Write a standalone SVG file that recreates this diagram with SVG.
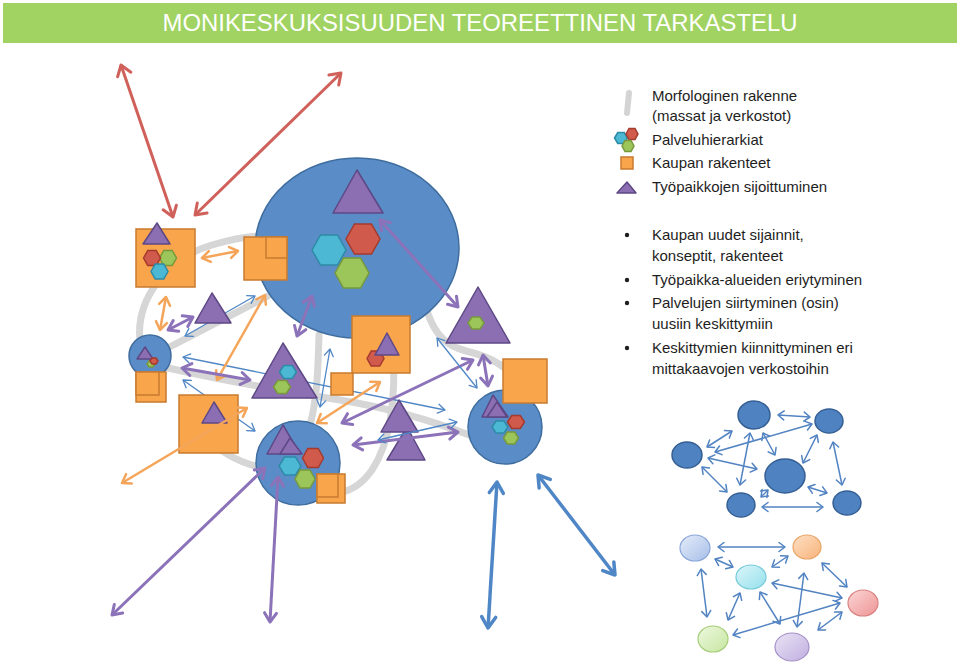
<svg xmlns="http://www.w3.org/2000/svg" width="960" height="667" viewBox="0 0 960 667">
<defs>
<style>
.band{fill:none;stroke:#d6d6d6;stroke-width:7;stroke-linecap:round}
.blue{fill:#5a8dc8;stroke:#3f6d9f;stroke-width:1.5}
.org{fill:#f8a54c;stroke:#c77b2f;stroke-width:1.5}
.tri{fill:#8c6fb3;stroke:#5d4885;stroke-width:1.5;stroke-linejoin:round}
.hr{fill:#d05a4b;stroke:#a53a2e;stroke-width:1.5}
.hc{fill:#4cb8d4;stroke:#2e8aa6;stroke-width:1.5}
.hg{fill:#9cc65a;stroke:#77993c;stroke-width:1.5}
.ar{fill:none;stroke:#d0605a;stroke-width:3;marker-start:url(#mR);marker-end:url(#mR)}
.ao{fill:none;stroke:#f5a55a;stroke-width:2.5;marker-start:url(#mO);marker-end:url(#mO)}
.ap{fill:none;stroke:#8c72b8;stroke-width:3;marker-start:url(#mP);marker-end:url(#mP)}
.ab{fill:none;stroke:#4f86c6;stroke-width:1.3;marker-start:url(#mB);marker-end:url(#mB)}
.abb{fill:none;stroke:#4f86c6;stroke-width:3.5;marker-start:url(#mBB);marker-end:url(#mBB)}
.an{fill:none;stroke:#5283c2;stroke-width:1.5;marker-start:url(#mN);marker-end:url(#mN)}
.nb{fill:#4f82c0;stroke:#355f94;stroke-width:1.5}
.lt{font-family:"Liberation Sans",Arial,sans-serif;font-size:15px;fill:#1e1e1e}
.title{font-family:"Liberation Sans",Arial,sans-serif;font-size:23px;fill:#ffffff}
</style>
<marker id="mR" markerUnits="userSpaceOnUse" orient="auto-start-reverse" overflow="visible"><path d="M-10,-7 L0,0 L-10,7" fill="none" stroke="#d0605a" stroke-width="3" stroke-linecap="round" stroke-linejoin="round"/></marker>
<marker id="mO" markerUnits="userSpaceOnUse" orient="auto-start-reverse" overflow="visible"><path d="M-8,-5.5 L0,0 L-8,5.5" fill="none" stroke="#f5a55a" stroke-width="2.5" stroke-linecap="round" stroke-linejoin="round"/></marker>
<marker id="mP" markerUnits="userSpaceOnUse" orient="auto-start-reverse" overflow="visible"><path d="M-9,-6 L0,0 L-9,6" fill="none" stroke="#8c72b8" stroke-width="3" stroke-linecap="round" stroke-linejoin="round"/></marker>
<marker id="mB" markerUnits="userSpaceOnUse" orient="auto-start-reverse" overflow="visible"><path d="M-7,-4.5 L0,0 L-7,4.5" fill="none" stroke="#4f86c6" stroke-width="1.3" stroke-linecap="round" stroke-linejoin="round"/></marker>
<marker id="mBB" markerUnits="userSpaceOnUse" orient="auto-start-reverse" overflow="visible"><path d="M-11,-7 L0,0 L-11,7" fill="none" stroke="#4f86c6" stroke-width="3.5" stroke-linecap="round" stroke-linejoin="round"/></marker>
<marker id="mN" markerUnits="userSpaceOnUse" orient="auto-start-reverse" overflow="visible"><path d="M-6,-4.5 L0,0 L-6,4.5" fill="none" stroke="#5283c2" stroke-width="1.5" stroke-linecap="round" stroke-linejoin="round"/></marker>
<linearGradient id="gP1" x1="0" y1="0" x2="1" y2="1"><stop offset="0" stop-color="#e4ecfa"/><stop offset="1" stop-color="#a8bfe8"/></linearGradient>
<linearGradient id="gP2" x1="0" y1="0" x2="1" y2="1"><stop offset="0" stop-color="#fde0c4"/><stop offset="1" stop-color="#f8b37a"/></linearGradient>
<linearGradient id="gP3" x1="0" y1="0" x2="1" y2="1"><stop offset="0" stop-color="#dcf6fa"/><stop offset="1" stop-color="#95e0ec"/></linearGradient>
<linearGradient id="gP4" x1="0" y1="0" x2="1" y2="1"><stop offset="0" stop-color="#fcd6d6"/><stop offset="1" stop-color="#ee9494"/></linearGradient>
<linearGradient id="gP5" x1="0" y1="0" x2="1" y2="1"><stop offset="0" stop-color="#eef8e0"/><stop offset="1" stop-color="#c6e6a0"/></linearGradient>
<linearGradient id="gP6" x1="0" y1="0" x2="1" y2="1"><stop offset="0" stop-color="#ebe4f5"/><stop offset="1" stop-color="#bfaee0"/></linearGradient>
</defs>
<rect width="960" height="667" fill="#ffffff"/>

<g id="title">
<rect x="3" y="3" width="954" height="40" fill="#a0d362"/>
<text class="title" x="480" y="31" text-anchor="middle" textLength="635" lengthAdjust="spacingAndGlyphs">MONIKESKUKSISUUDEN TEOREETTINEN TARKASTELU</text>
</g>

<g id="morphology">
<path class="band" d="M141,348 C132,300 168,258 212,245 C232,239 248,236 262,236"/>
<path class="band" d="M160,352 L268,296"/>
<path class="band" d="M168,368 C230,382 290,392 340,400 C390,408 430,420 472,436"/>
<path class="band" d="M319,335 C318,370 317,400 310,425"/>
<path class="band" d="M393,345 C396,395 392,440 372,470 C362,484 352,490 342,492"/>
<path class="band" d="M428,314 C436,336 447,346 466,351 C486,356 500,362 512,375"/>
<path class="band" d="M200,430 C218,452 238,462 262,468"/>
</g>

<g id="connectors-under">
<line class="ab" x1="185" y1="336" x2="255" y2="296"/>
<line class="ab" x1="183" y1="357" x2="445" y2="410"/>
<line class="ab" x1="183" y1="380" x2="255" y2="431"/>
</g>

<g id="center-main">
<ellipse class="blue" cx="357" cy="248" rx="102" ry="90"/>
<polygon class="tri" points="357,170 333,213 383,213"/>
<polygon class="hc" points="312,250 320.5,235 337.5,235 346,250 337.5,265 320.5,265"/>
<polygon class="hr" points="346,239 354.5,224 371.5,224 380,239 371.5,254 354.5,254"/>
<polygon class="hg" points="335,273 343.5,258 360.5,258 369,273 360.5,288 343.5,288"/>
</g>

<g id="retail-topleft">
<rect class="org" x="136" y="229" width="59" height="58"/>
<polygon class="tri" points="157,223 143,244 170,244"/>
<polygon class="hg" points="159.5,258 163.75,250.5 172.25,250.5 176.5,258 172.25,265.5 163.75,265.5"/>
<polygon class="hr" points="143.5,258 147.75,250.5 156.25,250.5 160.5,258 156.25,265.5 147.75,265.5"/>
<polygon class="hc" points="151,271.5 155.25,264 163.75,264 168,271.5 163.75,279 155.25,279"/>
</g>

<g id="retail-top">
<rect class="org" x="244" y="237" width="43" height="43"/>
<rect class="org" x="266" y="237" width="21" height="21"/>
</g>

<g id="jobs-small">
<polygon class="tri" points="212,293 195,323 231,323"/>
</g>

<g id="center-small">
<circle class="blue" cx="150" cy="356" r="21"/>
<polygon class="tri" points="145,347 137,359 153,359"/>
<polygon class="hg" points="147,364 149,361 153,361 155,364 153,367 149,367"/>
<polygon class="hr" points="150,361 152,358 156,358 158,361 156,364 152,364"/>
<rect class="org" x="136" y="372" width="30" height="30"/>
<rect class="org" x="136" y="372" width="23" height="23"/>
</g>

<g id="jobs-middle">
<polygon class="tri" points="283,343 252,398 317,398"/>
<polygon class="hc" points="279.5,372 283.75,365.5 292.25,365.5 296.5,372 292.25,378.5 283.75,378.5"/>
<polygon class="hg" points="273.5,387 277.75,380.5 286.25,380.5 290.5,387 286.25,393.5 277.75,393.5"/>
</g>

<g id="retail-middle">
<rect class="org" x="352" y="316" width="58" height="57"/>
<polygon class="hr" points="367,358.5 371.25,351 379.75,351 384,358.5 379.75,366 371.25,366"/>
<polygon class="tri" points="387,333 375,355 399,355"/>
<rect class="org" x="331" y="373" width="22" height="22"/>
</g>

<g id="jobs-right">
<polygon class="tri" points="478,287 446,343 510,343"/>
<polygon class="hg" points="468,323 472,317 480,317 484,323 480,329 472,329"/>
</g>

<g id="center-right">
<circle class="blue" cx="505" cy="427" r="37"/>
<rect class="org" x="503" y="359" width="44" height="44"/>
<polygon class="tri" points="493,395 482,417 508,417"/>
<polygon class="tri" points="497,402 487,417 507,417"/>
<polygon class="hr" points="507.5,422 511.75,415.5 520.25,415.5 524.5,422 520.25,428.5 511.75,428.5"/>
<polygon class="hc" points="492,427 496,421 504,421 508,427 504,433 496,433"/>
<polygon class="hg" points="503.5,438 507.25,432 514.75,432 518.5,438 514.75,444 507.25,444"/>
</g>

<g id="jobs-double">
<polygon class="tri" points="407,427 387,460 425,460"/>
<polygon class="tri" points="399,400 381,432 418,432"/>
</g>

<g id="retail-bottomleft">
<rect class="org" x="179" y="395" width="59" height="58"/>
<polygon class="tri" points="214,402 202,423 227,423"/>
</g>

<g id="center-bottom">
<circle class="blue" cx="298" cy="463" r="42"/>
<polygon class="tri" points="283,425 267,454 300,454"/>
<polygon class="tri" points="290,438 280,454 302,454"/>
<polygon class="hr" points="302.5,458 307.75,448.5 318.25,448.5 323.5,458 318.25,467.5 307.75,467.5"/>
<polygon class="hc" points="279,466 284.5,457 295.5,457 301,466 295.5,475 284.5,475"/>
<polygon class="hg" points="295,479 300,470 310,470 315,479 310,488 300,488"/>
<rect class="org" x="317" y="474" width="28" height="29"/>
<rect class="org" x="317" y="474" width="21" height="23"/>
</g>

<g id="connectors">
<line class="ar" x1="121" y1="65" x2="173" y2="217"/>
<line class="ar" x1="341" y1="73" x2="195" y2="215"/>
<line class="ao" x1="202" y1="258" x2="238" y2="251"/>
<line class="ao" x1="166" y1="297" x2="160" y2="330"/>
<line class="ao" x1="265" y1="295" x2="217" y2="380"/>
<line class="ao" x1="317" y1="423" x2="380" y2="382"/>
<line class="ao" x1="247" y1="408" x2="122" y2="483"/>
<line class="ap" x1="168" y1="330" x2="193" y2="317"/>
<line class="ap" x1="312" y1="296" x2="297" y2="336"/>
<line class="ap" x1="182" y1="368" x2="250" y2="380"/>
<line class="ap" x1="380" y1="220" x2="458" y2="307"/>
<line class="ap" x1="483" y1="355" x2="488" y2="386"/>
<line class="ap" x1="342" y1="423" x2="473" y2="360"/>
<line class="ap" x1="353" y1="445" x2="458" y2="432"/>
<line class="ap" x1="265" y1="468" x2="112" y2="615"/>
<line class="ap" x1="278" y1="477" x2="270" y2="622"/>
<line class="ab" x1="330" y1="349" x2="320" y2="407"/>
<line class="ab" x1="437" y1="338" x2="477" y2="388"/>
<line class="ab" x1="378" y1="440" x2="457" y2="422"/>
<line class="abb" x1="497" y1="482" x2="488" y2="628"/>
<line class="abb" x1="538" y1="475" x2="615" y2="575"/>
</g>

<g id="legend">
<line x1="629" y1="93" x2="627" y2="113" stroke="#d4d4d4" stroke-width="6" stroke-linecap="round"/>
<text class="lt" x="652" y="101">Morfologinen rakenne</text>
<text class="lt" x="652" y="121">(massat ja verkostot)</text>
<polygon class="hc" points="614.5,138 617.75,132.5 624.25,132.5 627.5,138 624.25,143.5 617.75,143.5"/>
<polygon class="hr" points="626,134 629,128.5 635,128.5 638,134 635,139.5 629,139.5"/>
<polygon class="hg" points="622,146 625,140.5 631,140.5 634,146 631,151.5 625,151.5"/>
<text class="lt" x="652" y="145">Palveluhierarkiat</text>
<rect class="org" x="621" y="157" width="12" height="12"/>
<text class="lt" x="652" y="168">Kaupan rakenteet</text>
<polygon class="tri" points="627,182 617,193 636,193"/>
<text class="lt" x="652" y="192">Työpaikkojen sijoittuminen</text>
<circle cx="627" cy="235" r="2.2" fill="#1e1e1e"/>
<text class="lt" x="652" y="240">Kaupan uudet sijainnit,</text>
<text class="lt" x="652" y="261">konseptit, rakenteet</text>
<circle cx="627" cy="280" r="2.2" fill="#1e1e1e"/>
<text class="lt" x="652" y="285">Työpaikka-alueiden eriytyminen</text>
<circle cx="627" cy="303" r="2.2" fill="#1e1e1e"/>
<text class="lt" x="652" y="308">Palvelujen siirtyminen (osin)</text>
<text class="lt" x="652" y="329">uusiin keskittymiin</text>
<circle cx="627" cy="348" r="2.2" fill="#1e1e1e"/>
<text class="lt" x="652" y="353">Keskittymien kiinnittyminen eri</text>
<text class="lt" x="652" y="374">mittakaavojen verkostoihin</text>
</g>

<g id="network-blue">
<g id="nb-connectors">
<line class="an" x1="778" y1="415" x2="810" y2="417"/>
<line class="an" x1="707" y1="447" x2="732" y2="431"/>
<line class="an" x1="715" y1="452" x2="812" y2="424"/>
<line class="an" x1="708" y1="458" x2="757" y2="469"/>
<line class="an" x1="702" y1="467" x2="727" y2="492"/>
<line class="an" x1="750" y1="433" x2="740" y2="485"/>
<line class="an" x1="763" y1="433" x2="775" y2="455"/>
<line class="an" x1="817" y1="435" x2="803" y2="463"/>
<line class="an" x1="833" y1="442" x2="842" y2="485"/>
<line class="an" x1="808" y1="487" x2="827" y2="493"/>
<line class="an" x1="762" y1="507" x2="823" y2="507"/>
<line class="an" x1="761" y1="497" x2="768" y2="490"/>
</g>
<g id="nb-1"><ellipse class="nb" cx="754" cy="415" rx="16" ry="14"/></g>
<g id="nb-2"><ellipse class="nb" cx="829" cy="421" rx="14" ry="12"/></g>
<g id="nb-3"><ellipse class="nb" cx="687" cy="455" rx="15" ry="13"/></g>
<g id="nb-4"><ellipse class="nb" cx="785" cy="476" rx="20" ry="17"/></g>
<g id="nb-5"><ellipse class="nb" cx="741" cy="505" rx="14" ry="12"/></g>
<g id="nb-6"><ellipse class="nb" cx="847" cy="503" rx="14" ry="12"/></g>
</g>

<g id="network-pastel">
<g id="np-connectors">
<line class="an" x1="718" y1="547" x2="785" y2="547"/>
<line class="an" x1="715" y1="559" x2="733" y2="567"/>
<line class="an" x1="788" y1="556" x2="772" y2="567"/>
<line class="an" x1="701" y1="569" x2="707" y2="617"/>
<line class="an" x1="740" y1="593" x2="728" y2="620"/>
<line class="an" x1="772" y1="583" x2="842" y2="598"/>
<line class="an" x1="760" y1="592" x2="780" y2="624"/>
<line class="an" x1="822" y1="563" x2="847" y2="587"/>
<line class="an" x1="804" y1="573" x2="797" y2="627"/>
<line class="an" x1="733" y1="635" x2="840" y2="603"/>
<line class="an" x1="818" y1="630" x2="842" y2="612"/>
</g>
<g id="np-1"><ellipse cx="695" cy="548" rx="15" ry="13" fill="url(#gP1)" stroke="#8aa6d8" stroke-width="1.2"/></g>
<g id="np-2"><ellipse cx="807" cy="547" rx="14" ry="12" fill="url(#gP2)" stroke="#eaa466" stroke-width="1.2"/></g>
<g id="np-3"><ellipse cx="751" cy="577" rx="15" ry="12" fill="url(#gP3)" stroke="#74cad8" stroke-width="1.2"/></g>
<g id="np-4"><ellipse cx="863" cy="603" rx="15" ry="13" fill="url(#gP4)" stroke="#d98080" stroke-width="1.2"/></g>
<g id="np-5"><ellipse cx="713" cy="639" rx="15" ry="13" fill="url(#gP5)" stroke="#a5cc78" stroke-width="1.2"/></g>
<g id="np-6"><ellipse cx="792" cy="647" rx="17" ry="14" fill="url(#gP6)" stroke="#a590c8" stroke-width="1.2"/></g>
</g>
</svg>
